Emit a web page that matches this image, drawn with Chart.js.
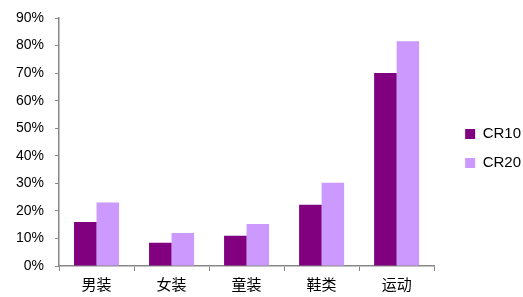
<!DOCTYPE html>
<html lang="zh">

<head>
  <meta charset="UTF-8">
  <title>CR10 / CR20</title>
  <script src="https://cdn.jsdelivr.net/npm/chart.js@4/dist/chart.umd.min.js"></script>
  <style>
    html, body { margin: 0; padding: 0; background: #fff; }
    #wrap { width: 523px; height: 297px; }
  </style>
</head>

<body>
  <div id="wrap">
    <canvas id="c" width="523" height="297"></canvas>
  </div>
  <script>
    // 行业集中度 (%)
    var categories = ['男装', '女装', '童装', '鞋类', '运动'];
    var cr10 = [16, 8.4, 11, 22.2, 70];
    var cr20 = [23, 12, 15.2, 30.2, 81.6];
    var yTicks = [0, 10, 20, 30, 40, 50, 60, 70, 80, 90];

    var fontFamily = "'Liberation Sans', Arial, 'Noto Sans CJK SC', sans-serif";

    new Chart(document.getElementById('c'), {
      type: 'bar',
      data: {
        labels: categories,
        datasets: [
          { label: 'CR10', data: cr10, backgroundColor: '#800080' },
          { label: 'CR20', data: cr20, backgroundColor: '#CC99FF' }
        ]
      },
      options: {
        responsive: false,
        animation: false,
        layout: { padding: { top: 0, left: 5, right: -8, bottom: 0 } },
        datasets: { bar: { categoryPercentage: 0.6, barPercentage: 1 } },
        plugins: {
          legend: {
            position: 'right',
            labels: {
              boxWidth: 10, boxHeight: 10, padding: 14,
              color: '#000',
              font: { family: fontFamily, size: 15 }
            }
          },
          tooltip: { enabled: false }
        },
        scales: {
          x: {
            grid: { drawOnChartArea: false, drawTicks: true, tickLength: 5, color: '#888', offset: true },
            border: { display: true, color: '#888', width: 1.5 },
            ticks: { color: '#000', padding: 4, font: { family: "'Noto Sans CJK SC', sans-serif", size: 15 } }
          },
          y: {
            min: 0, max: 90,
            afterBuildTicks: function (axis) {
              axis.ticks = yTicks.map(function (v) { return { value: v }; });
            },
            grid: { drawOnChartArea: false, drawTicks: true, tickLength: 4, color: '#888' },
            border: { display: true, color: '#888', width: 1.5 },
            ticks: {
              color: '#000', padding: 11,
              font: { family: fontFamily, size: 14, lineHeight: 1 },
              callback: function (v) { return v + '%'; }
            }
          },
          // empty right-hand scale, only keeps a gap before the legend
          gap: {
            type: 'linear', position: 'right',
            grid: { display: false }, border: { display: false },
            ticks: { display: false },
            afterFit: function (scale) { scale.width = 17; }
          }
        }
      }
    });
  </script>
</body>

</html>
